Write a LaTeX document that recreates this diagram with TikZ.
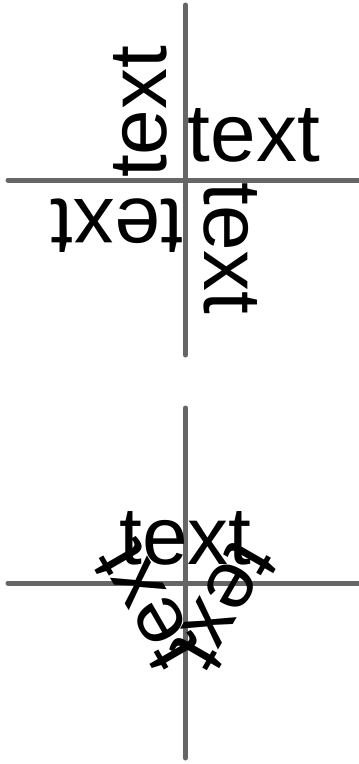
\documentclass[tikz,border=0pt]{standalone}
\usepackage{fontspec}
\setmainfont{Liberation Sans}
\tikzset{
  axisline/.style={draw=black!60, line width=5pt, line cap=round},
  lbl/.style={font=\fontsize{82}{98}\selectfont, text=black, inner xsep=2pt, inner ysep=18pt},
}
\begin{document}
\begin{tikzpicture}[x=1pt,y=-1pt]
\useasboundingbox (0,0) rectangle (359,764);
% top cross
\coordinate (A) at (185.5,180);
\coordinate (An) at (185.5,5);
\coordinate (As) at (185.5,355);
\coordinate (Aw) at (8,180);
\coordinate (Ae) at (359,180);
\draw[axisline] (An) -- (As);
\draw[axisline] (Aw) -- (Ae);
\node[lbl, anchor=south west, rotate=0] (a0) at (A) {text};
\node[lbl, anchor=south west, rotate=90] (a90) at (A) {text};
\node[lbl, anchor=south west, rotate=180] (a180) at (A) {text};
\node[lbl, anchor=south west, rotate=270] (a270) at (A) {text};
% bottom cross
\coordinate (B) at (185.5,583);
\coordinate (Bn) at (185.5,408);
\coordinate (Bs) at (185.5,758);
\coordinate (Bw) at (8,583);
\coordinate (Be) at (359,583);
\draw[axisline] (Bn) -- (Bs);
\draw[axisline] (Bw) -- (Be);
\node[lbl, anchor=south, rotate=0] (b0) at (B) {text};
\node[lbl, anchor=south, rotate=120] (b120) at (B) {text};
\node[lbl, anchor=south, rotate=240] (b240) at (B) {text};
\end{tikzpicture}
\end{document}
